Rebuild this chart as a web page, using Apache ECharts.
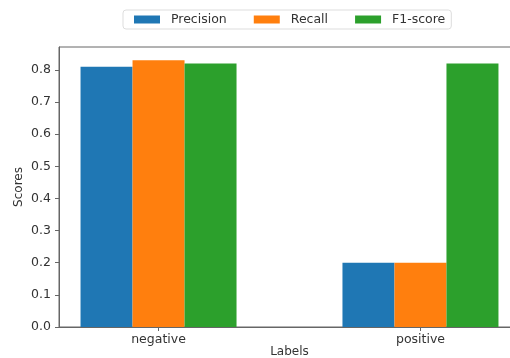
<!DOCTYPE html>
<html>
<head>
<meta charset="utf-8">
<script src="https://cdn.jsdelivr.net/npm/echarts@6/dist/echarts.min.js"></script>
<style>
  html, body { margin: 0; padding: 0; background: #fff; }
  #chart { width: 510px; height: 358px; }
</style>
</head>
<body>
<div id="chart"></div>
<script>
var categories = ['negative', 'positive']
var precision = [0.81, 0.20]
var recall = [0.83, 0.20]
var f1score = [0.82, 0.82]
var yTicks = [0, 0.1, 0.2, 0.3, 0.4, 0.5, 0.6, 0.7, 0.8]

var font = 'DejaVu Sans'
var textColor = '#333'

function toPoints(values) {
  return values.map(function (v, i) { return [i, v] })
}

function barSeries(name, values, color) {
  return {
    name: name,
    type: 'bar',
    barWidth: 52,
    barGap: '0%',
    itemStyle: { color: color },
    data: toPoints(values),
  }
}

var chart = echarts.init(document.getElementById('chart'))
var option = {
  animation: false,
  textStyle: { fontFamily: font },
  legend: {
    left: 123,
    top: 10,
    padding: [3, 6, 3, 11],
    itemGap: 27,
    itemWidth: 26,
    itemHeight: 8,
    icon: 'rect',
    borderColor: '#ddd',
    borderWidth: 1,
    borderRadius: 3,
    textStyle: { fontFamily: font, fontSize: 12.5, color: textColor, padding: [0, 0, 0, 6] },
    data: ['Precision', 'Recall', 'F1-score'],
  },
  grid: {
    left: 59,
    top: 47,
    width: 461,
    height: 280,
    outerBoundsMode: 'none',
    containLabel: false,
    show: true,
    borderColor: '#666',
    borderWidth: 1,
  },
  xAxis: {
    type: 'value',
    min: -0.38,
    max: 1.38,
    name: 'Labels',
    nameLocation: 'middle',
    nameGap: 19,
    nameMoveOverlap: false,
    nameTextStyle: { fontFamily: font, fontSize: 12, color: textColor },
    axisLine: { show: true, onZero: false, lineStyle: { color: '#666' } },
    axisTick: { show: true, length: 4, customValues: [0, 1], lineStyle: { color: '#666' } },
    axisLabel: {
      customValues: [0, 1],
      margin: 6,
      fontFamily: font,
      fontSize: 12.5,
      color: textColor,
      formatter: function (v) { return categories[Math.round(v)] },
    },
    splitLine: { show: false },
  },
  yAxis: {
    type: 'value',
    min: 0,
    max: 0.8715,
    name: 'Scores',
    nameLocation: 'middle',
    nameGap: 34,
    nameMoveOverlap: false,
    nameTextStyle: { fontFamily: font, fontSize: 12, color: textColor },
    axisLine: { show: true, onZero: false, lineStyle: { color: '#666' } },
    axisTick: { show: true, length: 4, customValues: yTicks, lineStyle: { color: '#666' } },
    axisLabel: {
      customValues: yTicks,
      margin: 8,
      fontFamily: font,
      fontSize: 12.5,
      color: textColor,
      formatter: function (v) { return v.toFixed(1) },
    },
    splitLine: { show: false },
  },
  series: [
    barSeries('Precision', precision, '#1f77b4'),
    barSeries('Recall', recall, '#ff7f0e'),
    barSeries('F1-score', f1score, '#2ca02c'),
  ],
}
chart.setOption(option)
</script>
</body>
</html>
